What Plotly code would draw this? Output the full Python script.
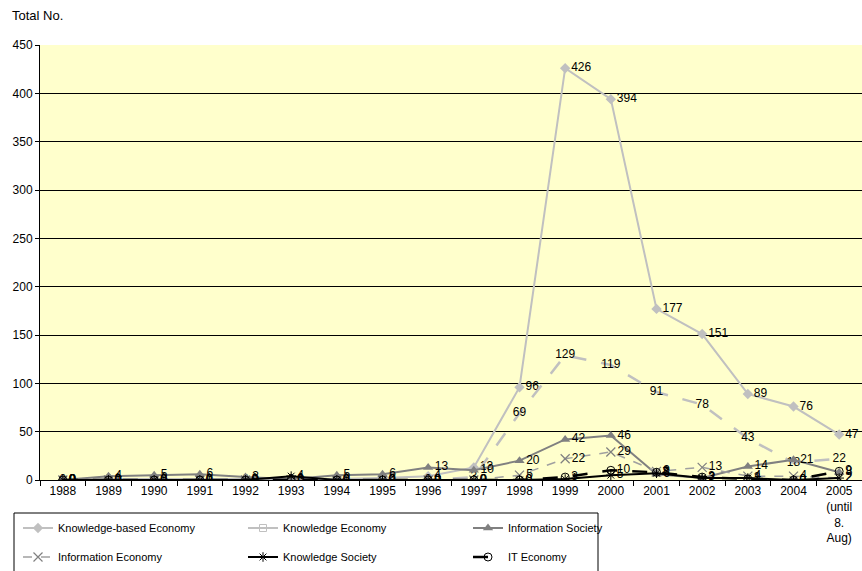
import plotly.graph_objects as go

# Yearly counts of publications by term
years = [str(y) for y in range(1988, 2006)]
year_labels = [str(y) for y in range(1988, 2005)] + ["2005<br>(until<br>8.<br>Aug)"]

knowledge_based_economy = [0, 1, 1, 1, 1, 1, 1, 2, 4, 13, 96, 426, 394, 177, 151, 89, 76, 47]
knowledge_economy = [0, 0, 0, 0, 0, 0, 0, 0, 0, 3, 69, 129, 119, 91, 78, 43, 18, 22]
information_society = [0, 4, 5, 6, 3, 1, 5, 6, 13, 10, 20, 42, 46, 6, 2, 14, 21, 8]
information_economy = [0, 0, 0, 0, 0, 0, 0, 0, 0, 0, 5, 22, 29, 9, 13, 4, 4, 2]
knowledge_society = [0, 0, 0, 0, 0, 4, 0, 0, 0, 0, 0, 1, 5, 7, 2, 2, 0, 2]
it_economy = [0, 0, 0, 0, 0, 0, 0, 0, 0, 0, 0, 3, 10, 8, 3, 1, 0, 9]

W, H = 862, 571
ML, MR, MT, MB = 40, 0, 45, 91
PW, PH = W - ML - MR, H - MT - MB


def px_x(p):
    return (p - ML) / PW


def px_y(p):
    return (H - MB - p) / PH


FONT = "Liberation Sans, Arial, sans-serif"
label_font = dict(family=FONT, size=12, color="black")

fig = go.Figure()

# Knowledge-based Economy
fig.add_trace(go.Scatter(
    x=years, y=knowledge_based_economy, name="Knowledge-based Economy",
    mode="lines+markers+text", text=[str(v) for v in knowledge_based_economy],
    textposition="middle right", textfont=label_font,
    line=dict(color="#C0C0C0", width=2),
    marker=dict(symbol="diamond", size=8, color="#C0C0C0"),
    legend="legend",
))

# Knowledge Economy (chart line without markers; legend entry shows square)
fig.add_trace(go.Scatter(
    x=years, y=knowledge_economy, name="Knowledge Economy",
    mode="lines+text", text=[str(v) for v in knowledge_economy],
    textposition="middle center", textfont=label_font,
    line=dict(color="#C0C0C0", width=2.5, dash="longdash"),
    showlegend=False,
))
fig.add_trace(go.Scatter(
    x=[None], y=[None], name="Knowledge Economy",
    mode="lines+markers",
    line=dict(color="#C0C0C0", width=2),
    marker=dict(symbol="square-open", size=7, color="#C0C0C0"),
    legend="legend",
))

# Information Society
fig.add_trace(go.Scatter(
    x=years, y=information_society, name="Information Society",
    mode="lines+markers+text", text=[str(v) for v in information_society],
    textposition="middle right", textfont=label_font,
    line=dict(color="#808080", width=2),
    marker=dict(symbol="triangle-up", size=9, color="#808080"),
    legend="legend",
))

# Information Economy
fig.add_trace(go.Scatter(
    x=years, y=information_economy, name="Information Economy",
    mode="lines+markers+text", text=[str(v) for v in information_economy],
    textposition="middle right", textfont=label_font,
    line=dict(color="#A0A0A0", width=1.5, dash="dash"),
    marker=dict(symbol="x-thin-open", size=9, color="#808080", line=dict(width=1.2, color="#808080")),
    legend="legend2",
))

# Knowledge Society
fig.add_trace(go.Scatter(
    x=years, y=knowledge_society, name="Knowledge Society",
    mode="lines+markers+text", text=[str(v) for v in knowledge_society],
    textposition="middle right", textfont=label_font,
    line=dict(color="black", width=2),
    marker=dict(symbol="asterisk-open", size=8, color="black", line=dict(width=1, color="black")),
    legend="legend2",
))

# IT Economy
fig.add_trace(go.Scatter(
    x=years, y=it_economy, name="IT Economy",
    mode="lines+markers+text", text=[str(v) for v in it_economy],
    textposition="middle right", textfont=label_font,
    line=dict(color="black", width=2.5, dash="longdash"),
    marker=dict(symbol="circle-open", size=8, color="black", line=dict(width=1, color="black")),
    legend="legend2",
))

legend_common = dict(
    orientation="h", xanchor="left", yanchor="middle",
    font=dict(family=FONT, size=11, color="black"),
    bgcolor="rgba(0,0,0,0)", borderwidth=0,
    entrywidthmode="pixels", entrywidth=180,
    itemclick=False, itemdoubleclick=False,
)

fig.update_layout(
    width=W, height=H,
    margin=dict(l=ML, r=MR, t=MT, b=MB, autoexpand=False),
    paper_bgcolor="white",
    plot_bgcolor="#FFFFCC",
    font=dict(family=FONT, size=12, color="black"),
    showlegend=True,
    legend=dict(x=px_x(18), y=px_y(528), **legend_common),
    legend2=dict(x=px_x(18), y=px_y(557), **legend_common),
    xaxis=dict(
        type="category", tickmode="array", tickvals=years, ticktext=year_labels,
        tickson="boundaries", ticks="outside", ticklen=5, tickcolor="black",
        showline=True, linecolor="black", linewidth=1,
        showgrid=False, tickfont=dict(family=FONT, size=12, color="black"),
        range=[-0.5, len(years) - 0.5], fixedrange=True,
    ),
    yaxis=dict(
        range=[0, 450], dtick=50, tick0=0,
        ticks="outside", ticklen=4, tickcolor="black",
        showline=True, linecolor="black", linewidth=1,
        showgrid=True, gridcolor="black", gridwidth=1,
        zeroline=False, tickfont=dict(family=FONT, size=12, color="black"),
        fixedrange=True,
    ),
    annotations=[dict(
        text="Total No.", xref="paper", yref="paper",
        x=px_x(10), y=px_y(15), xanchor="left", yanchor="middle",
        showarrow=False, font=dict(family=FONT, size=13, color="black"),
    )],
    shapes=[dict(
        type="rect", xref="paper", yref="paper",
        x0=px_x(14), x1=px_x(598), y0=px_y(513), y1=px_y(585),
        line=dict(color="black", width=1), fillcolor="rgba(0,0,0,0)",
        layer="above",
    )],
)

fig.write_html("out.html")
